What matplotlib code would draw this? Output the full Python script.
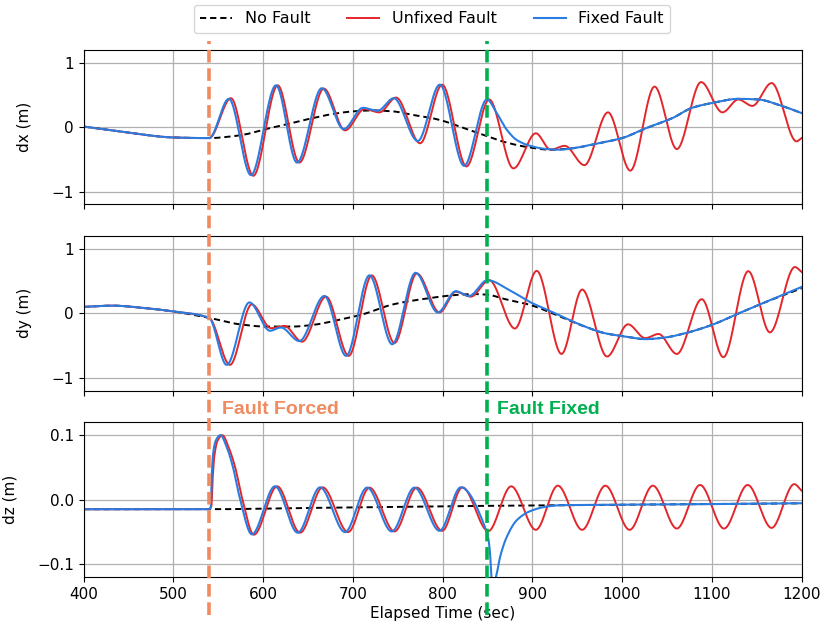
import numpy as np
import matplotlib
matplotlib.use("Agg")
import matplotlib.pyplot as plt
import matplotlib.transforms as mtransforms
from matplotlib.lines import Line2D

# ---------------- data ----------------
fault_forced_t = 540
fault_fixed_t = 850

# dx (m)
dx_nofault_t = [400, 450, 500, 540, 564, 581, 600, 628, 655, 680, 700, 722, 745, 767, 785, 800,
                825, 848, 869, 895, 920, 944, 970, 1000, 1026, 1056, 1078, 1100, 1130, 1152, 1174, 1200]
dx_nofault_v = [0.01, -0.085, -0.16, -0.17, -0.145, -0.11, -0.04, 0.05, 0.14, 0.21, 0.245, 0.26, 0.245, 0.19, 0.15, 0.10,
                -0.02, -0.13, -0.23, -0.31, -0.35, -0.33, -0.26, -0.17, -0.02, 0.14, 0.30, 0.375, 0.44, 0.43, 0.35, 0.22]
dx_unfixed_t = [400, 450, 500, 540, 564.3, 589.2, 616.4, 640.5, 667.7, 691.4, 713.0, 729.7, 748.3, 775.1, 799.6,
                826.7, 852.0, 879.0, 904.0, 920.4, 936.3, 958.1, 984.4, 1009.3, 1036.3, 1061.1, 1088.1, 1111.9,
                1129.6, 1145.2, 1166.7, 1194.4, 1200]
dx_unfixed_v = [0.01, -0.085, -0.16, -0.17, 0.45, -0.755, 0.65, -0.55, 0.60, -0.05, 0.28, 0.23, 0.46, -0.25, 0.66,
                -0.61, 0.43, -0.64, -0.095, -0.35, -0.29, -0.59, 0.23, -0.675, 0.63, -0.34, 0.70, 0.23,
                0.43, 0.33, 0.685, -0.22, -0.17]
dx_fixed_t = [400, 450, 500, 540, 562.0, 586.6, 614.5, 637.9, 665.5, 689.9, 711.2, 727.8, 745.7, 772.5, 797.0,
              824.1, 849.5, 860.4, 871.6, 882.8, 897.6, 916, 931, 944, 970, 1000, 1026, 1056, 1078, 1100,
              1130, 1152, 1174, 1200]
dx_fixed_v = [0.01, -0.085, -0.16, -0.17, 0.44, -0.745, 0.65, -0.55, 0.605, -0.03, 0.30, 0.255, 0.45, -0.215, 0.66,
              -0.60, 0.43, 0.22, -0.04, -0.20, -0.29, -0.34, -0.35, -0.33, -0.26, -0.17, -0.02, 0.14, 0.30, 0.375,
              0.44, 0.43, 0.35, 0.22]

# dy (m)
dy_nofault_t = [400, 432, 470, 500, 540, 574, 603, 633, 655, 685, 711, 745, 782, 819, 835, 850, 870, 898, 920,
                950, 981.5, 1004, 1026, 1048, 1070, 1100, 1130, 1159, 1200]
dy_nofault_v = [0.10, 0.12, 0.08, 0.03, -0.07, -0.17, -0.205, -0.205, -0.18, -0.10, -0.015, 0.14, 0.23, 0.29, 0.30,
                0.29, 0.22, 0.13, 0.015, -0.16, -0.31, -0.36, -0.40, -0.375, -0.31, -0.18, 0.0, 0.17, 0.39]
dy_unfixed_t = [400, 432, 470, 500, 540, 563.2, 587.4, 609, 623.8, 643.5, 670.3, 695.5, 721.2, 746.5, 771.4, 796.7,
                814.8, 831.5, 852.0, 880.7, 905.0, 932.6, 955.6, 983.3, 1006.7, 1025.9, 1040.7, 1061.1, 1088.9,
                1113, 1140.7, 1164.8, 1192.6, 1200]
dy_unfixed_v = [0.10, 0.12, 0.08, 0.03, -0.07, -0.80, 0.14, -0.23, -0.195, -0.44, 0.26, -0.66, 0.59, -0.46, 0.62, 0.015,
                0.335, 0.26, 0.515, -0.235, 0.66, -0.63, 0.37, -0.67, -0.17, -0.385, -0.32, -0.63, 0.22,
                -0.68, 0.655, -0.295, 0.72, 0.645]
dy_fixed_t = [400, 432, 470, 500, 540, 559.5, 584.8, 607.8, 620, 640.5, 668.4, 692.6, 718.6, 744, 770, 794.8,
              814.8, 829.6, 850, 875.3, 897.6, 920, 950, 981.5, 1004, 1026, 1048, 1070, 1100, 1130, 1159, 1200]
dy_fixed_v = [0.10, 0.12, 0.08, 0.03, -0.07, -0.80, 0.17, -0.27, -0.22, -0.43, 0.27, -0.66, 0.59, -0.48, 0.63, 0.015,
              0.345, 0.27, 0.515, 0.355, 0.175, 0.035, -0.155, -0.31, -0.36, -0.40, -0.375, -0.31, -0.18, 0.0,
              0.17, 0.41]

# dz (m)
dz_nofault_t = [400, 540, 650, 750, 830, 900, 1000, 1100, 1200]
dz_nofault_v = [-0.015, -0.015, -0.013, -0.0115, -0.010, -0.0092, -0.008, -0.007, -0.0058]
dz_unfixed_t = [400, 540, 542.5, 544, 546, 549.5, 554.7, 562, 569, 576.5, 589.8, 615.8, 641.3, 666.5, 694.8,
                718.6, 746.5, 771.4, 799.6, 822.2, 851, 876.5, 904, 928.5, 955.6, 981.5, 1008.5, 1034.4,
                1061.1, 1087, 1113.7, 1140, 1166.7, 1191.9, 1200]
dz_unfixed_v = [-0.015, -0.015, -0.01, 0.035, 0.07, 0.092, 0.10, 0.08, 0.05, 0.0035, -0.0546, 0.0206, -0.0515,
                0.019, -0.0505, 0.0186, -0.0495, 0.0186, -0.0485, 0.019, -0.049, 0.0206, -0.047, 0.0216, -0.047,
                0.0216, -0.047, 0.0216, -0.045, 0.0227, -0.045, 0.0227, -0.044, 0.024, 0.014]
dz_fixed_t = [400, 540, 541.7, 543, 544.3, 547.5, 552.5, 560, 566.6, 574, 587.6, 613.4, 638.7, 663.6, 691.4,
              716, 743.5, 768.8, 796.7, 820.4, 848.5, 851, 853, 854.5, 856.5, 859.7, 864.2, 871.6, 882.8,
              897.6, 916.3, 931, 1000, 1100, 1200]
dz_fixed_v = [-0.015, -0.015, -0.012, 0.04, 0.07, 0.092, 0.10, 0.08, 0.05, 0.0035, -0.054, 0.0206, -0.0515,
              0.019, -0.0505, 0.0186, -0.0495, 0.0186, -0.0485, 0.019, -0.047, -0.06, -0.084, -0.12, -0.135,
              -0.12, -0.089, -0.058, -0.032, -0.018, -0.0108, -0.0088, -0.008, -0.007, -0.0057]

x_ticks = [400, 500, 600, 700, 800, 900, 1000, 1100, 1200]
panel_labels = ["dx (m)", "dy (m)", "dz (m)"]
series_labels = ["No Fault", "Unfixed Fault", "Fixed Fault"]


# ---------------- drawing helpers ----------------
def smooth_line(t, v, n=4000):
    """Monotone cubic (PCHIP) curve through the read points, for drawing only."""
    t = np.asarray(t, float)
    v = np.asarray(v, float)
    h = np.diff(t)
    d = np.diff(v) / h
    m = np.zeros_like(v)
    for k in range(1, len(v) - 1):
        if d[k - 1] * d[k] > 0:
            w1 = 2 * h[k] + h[k - 1]
            w2 = h[k] + 2 * h[k - 1]
            m[k] = (w1 + w2) / (w1 / d[k - 1] + w2 / d[k])
    m[0] = d[0]
    m[-1] = d[-1]
    ts = np.linspace(t[0], t[-1], n)
    i = np.clip(np.searchsorted(t, ts, side="right") - 1, 0, len(h) - 1)
    s = (ts - t[i]) / h[i]
    h00 = 2 * s**3 - 3 * s**2 + 1
    h10 = s**3 - 2 * s**2 + s
    h01 = -2 * s**3 + 3 * s**2
    h11 = s**3 - s**2
    vs = h00 * v[i] + h10 * h[i] * m[i] + h01 * v[i + 1] + h11 * h[i] * m[i + 1]
    return ts, vs


plt.rcParams["font.family"] = ["DejaVu Sans"]
plt.rcParams["font.size"] = 11

W, H = 826, 628
fig = plt.figure(figsize=(W / 100, H / 100), dpi=100)

left = 83.5 / W
width = 718 / W
ax_h = 0.246
bottoms = [0.6745, 0.378, 0.0815]
axes = [fig.add_axes([left, b, width, ax_h]) for b in bottoms]

C_NF = "black"
C_UNF = "#E3262B"
C_FIX = "#2B7CE0"
C_FORCED = "#F08A60"
C_FIXED = "#00B050"

data = [
    (dx_nofault_t, dx_nofault_v, dx_unfixed_t, dx_unfixed_v, dx_fixed_t, dx_fixed_v),
    (dy_nofault_t, dy_nofault_v, dy_unfixed_t, dy_unfixed_v, dy_fixed_t, dy_fixed_v),
    (dz_nofault_t, dz_nofault_v, dz_unfixed_t, dz_unfixed_v, dz_fixed_t, dz_fixed_v),
]

handles = None
for ax, (nt, nv, ut, uv, ft, fv), lab in zip(axes, data, panel_labels):
    h1, = ax.plot(*smooth_line(nt, nv), color=C_NF, lw=1.4, ls=(0, (3.2, 2.0)), label=series_labels[0])
    h2, = ax.plot(*smooth_line(ut, uv), color=C_UNF, lw=1.4, label=series_labels[1])
    h3, = ax.plot(*smooth_line(ft, fv), color=C_FIX, lw=1.5, label=series_labels[2])
    if handles is None:
        handles = [h1, h2, h3]
    ax.set_xlim(400, 1200)
    ax.set_xticks(x_ticks)
    ax.grid(True, color="#b0b0b0", lw=0.9)
    ax.set_ylabel(lab, labelpad=14)
    ax.set_axisbelow(True)

for ax in axes[:2]:
    ax.set_ylim(-1.2, 1.2)
    ax.set_yticks([-1, 0, 1])
    ax.tick_params(labelbottom=False)
axes[2].set_ylim(-0.12, 0.12)
axes[2].set_yticks([-0.1, 0.0, 0.1])
axes[2].set_xlabel("Elapsed Time (sec)", labelpad=3)
fig.align_ylabels(axes)

# vertical event lines spanning all panels
trans = mtransforms.blended_transform_factory(axes[2].transData, fig.transFigure)
y_top = 1 - 41 / H
y_bot = 1 - 615 / H
for xt, col in [(fault_forced_t, C_FORCED), (fault_fixed_t, C_FIXED)]:
    fig.add_artist(Line2D([xt, xt], [y_bot, y_top], transform=trans, color=col, lw=2.6,
                          ls=(0, (3.5, 1.6)), zorder=5))

y_txt = 1 - 414 / H
fig.text(554.8, y_txt, "Fault Forced", transform=trans, color=C_FORCED, fontsize=14,
         fontweight="bold", family=["Liberation Sans", "DejaVu Sans"], ha="left", va="baseline")
fig.text(861.2, y_txt, "Fault Fixed", transform=trans, color=C_FIXED, fontsize=14,
         fontweight="bold", family=["Liberation Sans", "DejaVu Sans"], ha="left", va="baseline")

fig.legend(handles, series_labels, loc="upper center", bbox_to_anchor=(432 / W, 1 - 5 / H),
           borderaxespad=0, ncol=3, frameon=True, fontsize=11.5, columnspacing=2.3)

fig.savefig("out.png", dpi=100)
